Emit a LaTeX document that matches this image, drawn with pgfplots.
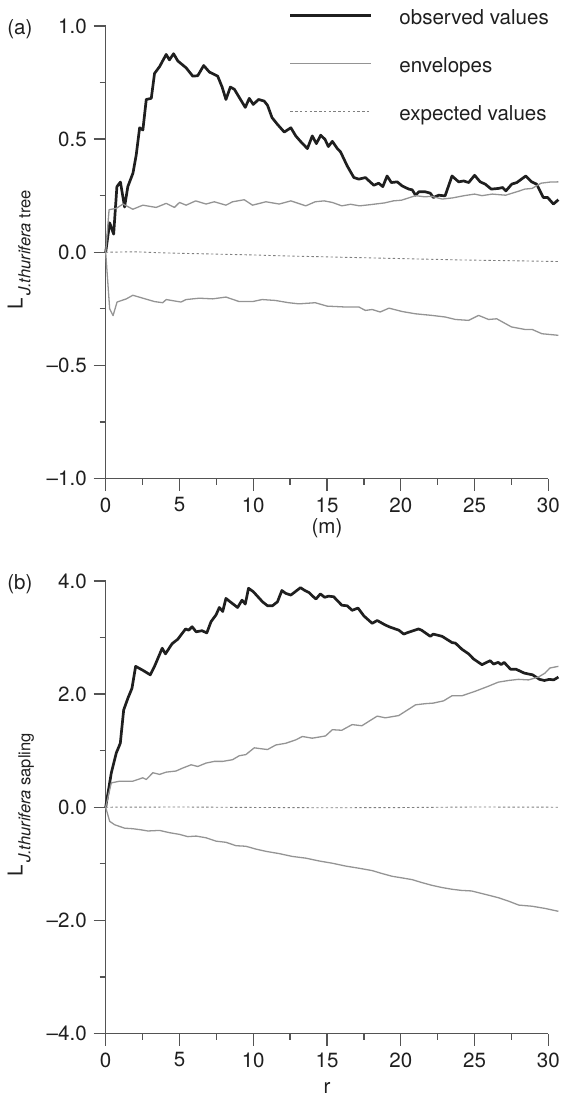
\documentclass[border=0pt]{standalone}
\usepackage{fontspec}
\setmainfont{TeX Gyre Heros}
\usepackage{graphicx}
\usepackage{pgfplots}
\pgfplotsset{compat=1.18}

\definecolor{envgray}{gray}{0.58}
\definecolor{expgray}{gray}{0.5}
\definecolor{axgray}{gray}{0.33}
\definecolor{txtgray}{gray}{0.12}

\newcommand{\lblfont}{\fontsize{10.3}{12}\selectfont}
\newcommand{\subfont}{\fontsize{8.3}{9}\selectfont}
% rotated y label: L with a lowered subscript, reading upwards
\newcommand{\Llabel}[1]{\rotatebox{90}{L\hspace{1.2pt}\smash{\raisebox{-4pt}{\subfont #1}}}}

\pgfplotsset{
  panel/.style={
    scale only axis=true,
    width=222pt, height=227pt,
    xmin=0, xmax=30,
    axis x line*=bottom,
    axis y line*=left,
    tick align=outside,
    xtick={0,5,...,30},
    minor tick num=1,
    major tick length=6pt,
    minor tick length=3pt,
    axis line style={axgray,line width=0.65pt},
    tick style={axgray,line width=0.65pt},
    every tick/.style={axgray,line width=0.65pt},
    tick label style={font=\lblfont,text=txtgray},
    /pgf/number format/assume math mode=true,
    label style={font=\lblfont,text=txtgray},
    clip=false,
  },
  obs/.style={black!88,line width=1.35pt,line join=round},
  env/.style={envgray,line width=0.65pt,line join=round},
  expd/.style={expgray,line width=0.45pt,dash pattern=on 1.2pt off 1.2pt},
}
\tikzset{
  ylab/.style={anchor=east,inner sep=0pt,font=\lblfont,text=txtgray},
  panlab/.style={anchor=base west,font=\lblfont,text=txtgray,inner sep=0pt},
}

\begin{document}
\begin{tikzpicture}
  % (a) trees
  \begin{axis}[
    panel,
    at={(0,0)}, anchor=south west,
    ymin=-1, ymax=1,
    ytick={-1,-0.5,0,0.5,1},
    yticklabels={–1.0,–0.5,0.0,0.5,1.0},
    xlabel={(m)},
    xlabel style={at={(axis description cs:0.5,0)},anchor=base,yshift=-27.5pt},
    legend style={at={(axis cs:12.4,1.072)},anchor=north west,draw=none,fill=none,
      inner sep=0pt,font=\lblfont,text=txtgray,row sep=14pt,
      nodes={inner sep=0pt,text height=7.5pt,text depth=2.5pt},
      /tikz/every odd column/.append style={column sep=13.5pt}},
    legend cell align=left,
    legend image code/.code={\path (0pt,0pt); \draw[#1] (0pt,2.1pt) -- (40.5pt,2.1pt);},
  ]
    \addplot[obs] coordinates {
      (0,0) (0.27,0.13) (0.54,0.08) (0.76,0.29) (1.0,0.31) (1.28,0.20)
      (1.5,0.29) (1.85,0.35) (2.07,0.43) (2.3,0.55) (2.52,0.54) (2.75,0.675)
      (3.09,0.68) (3.31,0.79) (3.65,0.82) (4.1,0.874) (4.32,0.85) (4.6,0.877)
      (4.89,0.845) (5.45,0.815) (5.9,0.778) (6.24,0.78) (6.64,0.825) (7.03,0.796)
      (7.59,0.778) (7.89,0.73) (8.15,0.675) (8.45,0.73) (8.72,0.72) (9.46,0.64)
      (9.73,0.68) (10.0,0.653) (10.36,0.675) (10.74,0.668) (10.97,0.649)
      (11.27,0.595) (11.64,0.565) (12.1,0.531) (12.55,0.55) (12.88,0.514)
      (13.2,0.49) (13.67,0.458) (14.0,0.514) (14.28,0.48) (14.57,0.517)
      (14.86,0.499) (15.09,0.467) (15.36,0.49) (15.7,0.458) (15.92,0.443)
      (16.37,0.381) (16.82,0.33) (17.16,0.323) (17.6,0.33) (18.17,0.296)
      (18.5,0.305) (18.78,0.29) (19.07,0.337) (19.36,0.308) (19.76,0.311)
      (20.09,0.293) (20.54,0.279) (20.77,0.276) (21.0,0.252) (21.22,0.267)
      (21.66,0.267) (22.0,0.261) (22.2,0.242) (22.57,0.252) (23.0,0.249)
      (23.47,0.337) (23.92,0.311) (24.26,0.315) (24.6,0.308) (25.0,0.34)
      (25.38,0.311) (25.72,0.301) (26.13,0.279) (26.62,0.282) (26.9,0.286)
      (27.12,0.271) (27.52,0.301) (27.86,0.308) (28.47,0.337) (28.87,0.311)
      (29.2,0.301) (29.66,0.242) (29.95,0.242) (30.34,0.213) (30.68,0.232)
    };
    \addlegendentry{observed values}
    \addplot[env] coordinates {
      (0,0) (0.23,0.188) (0.72,0.194) (1.17,0.213) (1.84,0.19) (2.52,0.208)
      (3.42,0.198) (4.1,0.216) (4.66,0.198) (5.0,0.22) (5.45,0.208) (6.1,0.227)
      (6.8,0.213) (7.36,0.223) (8.15,0.208) (8.6,0.223) (9.39,0.232) (9.95,0.208)
      (10.86,0.223) (11.76,0.213) (12.55,0.227) (13.56,0.205) (14.2,0.223)
      (14.8,0.227) (15.36,0.22) (16.0,0.205) (16.6,0.212) (17.2,0.205)
      (17.9,0.21) (18.9,0.218) (19.5,0.227) (20.05,0.23) (21.0,0.25)
      (21.6,0.245) (22.1,0.247) (22.8,0.235) (23.5,0.24) (24.3,0.25)
      (25.0,0.257) (25.5,0.25) (26.2,0.257) (27.1,0.252) (27.6,0.262)
      (28.0,0.27) (28.4,0.279) (28.9,0.282) (29.5,0.305) (30.1,0.31) (30.68,0.311)
    };
    \addlegendentry{envelopes}
    \addplot[expd] coordinates {
      (0,0) (2,0.002) (4,-0.003) (6,-0.006) (8,-0.009) (10,-0.012) (12,-0.016)
      (14,-0.019) (16,-0.022) (18,-0.025) (20,-0.028) (22,-0.031) (24,-0.034)
      (26,-0.036) (28,-0.038) (30.68,-0.041)
    };
    \addlegendentry{expected values}
    \addplot[env,forget plot] coordinates {
      (0,0) (0.27,-0.25) (0.5,-0.28) (0.77,-0.22) (1.4,-0.206) (1.84,-0.19)
      (2.52,-0.203) (3.31,-0.218) (3.87,-0.223) (4.1,-0.209) (5.1,-0.22)
      (5.45,-0.209) (6.35,-0.203) (7.25,-0.206) (8.15,-0.198) (9.05,-0.218)
      (9.95,-0.218) (10.6,-0.209) (11.5,-0.213) (12.4,-0.223) (13.1,-0.228)
      (14.2,-0.223) (15.0,-0.238) (16.26,-0.242) (17.16,-0.242) (17.6,-0.257)
      (18.06,-0.253) (18.6,-0.264) (19.2,-0.247) (20.1,-0.262) (21.0,-0.272)
      (22.1,-0.279) (23.0,-0.286) (23.7,-0.297) (24.6,-0.301) (25.27,-0.279)
      (25.95,-0.297) (26.5,-0.294) (27.5,-0.33) (28.4,-0.341) (28.9,-0.341)
      (29.56,-0.36) (30.68,-0.367)
    };
    \node[panlab] at (axis description cs:-0.223,0.982) {(a)};
    \node[ylab] at (axis description cs:-0.187,0.505)
      {\Llabel{\textit{J.thurifera} tree}};
  \end{axis}

  % (b) saplings
  \begin{axis}[
    panel,
    at={(0,-278.3pt)}, anchor=south west,
    ymin=-4, ymax=4,
    ytick={-4,-2,0,2,4},
    yticklabels={–4.0,–2.0,0.0,2.0,4.0},
    xlabel={r},
    xlabel style={at={(axis description cs:0.5,0)},anchor=base,yshift=-30pt},
  ]
    \addplot[obs] coordinates {
      (0,0) (0.38,0.605) (0.72,0.96) (0.99,1.13) (1.22,1.72) (1.51,1.93)
      (1.78,2.1) (2.03,2.49) (2.52,2.42) (3.02,2.34) (3.31,2.49) (3.83,2.81)
      (4.05,2.71) (4.5,2.89) (4.89,2.97) (5.41,3.15) (5.63,3.13) (5.86,3.19)
      (6.13,3.1) (6.53,3.12) (6.85,3.08) (7.14,3.28) (7.48,3.4) (7.7,3.53)
      (7.93,3.46) (8.15,3.69) (8.49,3.62) (8.94,3.53) (9.24,3.66) (9.46,3.59)
      (9.68,3.87) (10.0,3.81) (10.63,3.63) (10.97,3.56) (11.3,3.56) (11.64,3.63)
      (11.94,3.83) (12.2,3.78) (12.55,3.75) (13.2,3.88) (13.5,3.83) (13.8,3.79)
      (14.03,3.73) (14.25,3.68) (14.55,3.77) (14.84,3.71) (15.1,3.73)
      (15.45,3.72) (16.0,3.57) (16.37,3.56) (16.7,3.48) (17.1,3.52) (17.5,3.38)
      (18.06,3.25) (18.4,3.3) (18.95,3.22) (19.3,3.18) (19.86,3.13) (20.2,3.06)
      (20.5,3.09) (21.2,3.15) (21.4,3.13) (22.0,3.02) (22.2,3.06) (22.8,3.02)
      (23.47,2.91) (23.7,2.9) (24.15,2.79) (24.6,2.71) (24.93,2.62) (25.5,2.52)
      (26.06,2.59) (26.28,2.53) (26.6,2.56) (26.8,2.52) (27.0,2.56) (27.43,2.44)
      (27.8,2.44) (28.37,2.37) (28.93,2.34) (29.4,2.26) (29.73,2.24)
      (30.07,2.26) (30.36,2.25) (30.68,2.30)
    };
    \addplot[env] coordinates {
      (0,0) (0.38,0.43) (0.95,0.46) (1.84,0.46) (2.52,0.52) (2.75,0.49)
      (3.2,0.61) (3.65,0.58) (4.1,0.62) (4.77,0.64) (5.2,0.69) (5.79,0.75)
      (6.24,0.72) (6.8,0.78) (7.36,0.81) (7.93,0.81) (8.6,0.84) (9.05,0.91)
      (9.5,0.93) (10.07,1.05) (10.63,1.03) (10.97,1.02) (11.53,1.1) (12.2,1.13)
      (12.88,1.19) (13.33,1.25) (14.0,1.22) (14.46,1.24) (14.9,1.26)
      (15.36,1.37) (16.0,1.36) (16.7,1.46) (17.36,1.44) (18.4,1.61)
      (18.95,1.58) (19.86,1.62) (21.0,1.81) (21.66,1.83) (22.2,1.84)
      (22.9,1.88) (23.47,1.97) (24.15,1.97) (25.05,2.05) (25.95,2.14)
      (26.6,2.21) (27.3,2.24) (27.97,2.26) (28.65,2.25) (29.32,2.3)
      (29.77,2.37) (30.1,2.46) (30.68,2.49)
    };
    \addplot[expd] coordinates {
      (0,0) (5,0.004) (10,-0.004) (15,-0.01) (20,-0.006) (25,0.004) (30.68,0.0)
    };
    \addplot[env] coordinates {
      (0,0) (0.27,-0.25) (0.61,-0.31) (1.28,-0.37) (1.84,-0.38) (2.41,-0.4)
      (2.86,-0.42) (3.65,-0.41) (4.32,-0.45) (5.0,-0.48) (5.56,-0.52)
      (6.13,-0.51) (6.8,-0.54) (7.48,-0.6) (8.15,-0.62) (8.83,-0.68)
      (9.5,-0.69) (10.18,-0.74) (10.86,-0.78) (11.76,-0.82) (12.65,-0.87)
      (13.56,-0.9) (14.46,-0.95) (15.36,-0.99) (16.26,-1.04) (17.2,-1.08)
      (18.06,-1.12) (18.7,-1.17) (19.4,-1.22) (20.1,-1.25) (20.77,-1.28)
      (21.4,-1.33) (22.1,-1.38) (22.8,-1.42) (23.47,-1.45) (24.1,-1.47)
      (24.8,-1.48) (25.72,-1.54) (26.62,-1.6) (27.3,-1.66) (28.0,-1.73)
      (28.9,-1.75) (29.8,-1.79) (30.68,-1.84)
    };
    \node[panlab] at (axis description cs:-0.223,0.982) {(b)};
    \node[ylab] at (axis description cs:-0.187,0.505)
      {\Llabel{\textit{J.thurifera} sapling}};
  \end{axis}

  % page extent of the reference
  \path (-53pt,-310pt) rectangle (229.5pt,240pt);
\end{tikzpicture}
\end{document}
